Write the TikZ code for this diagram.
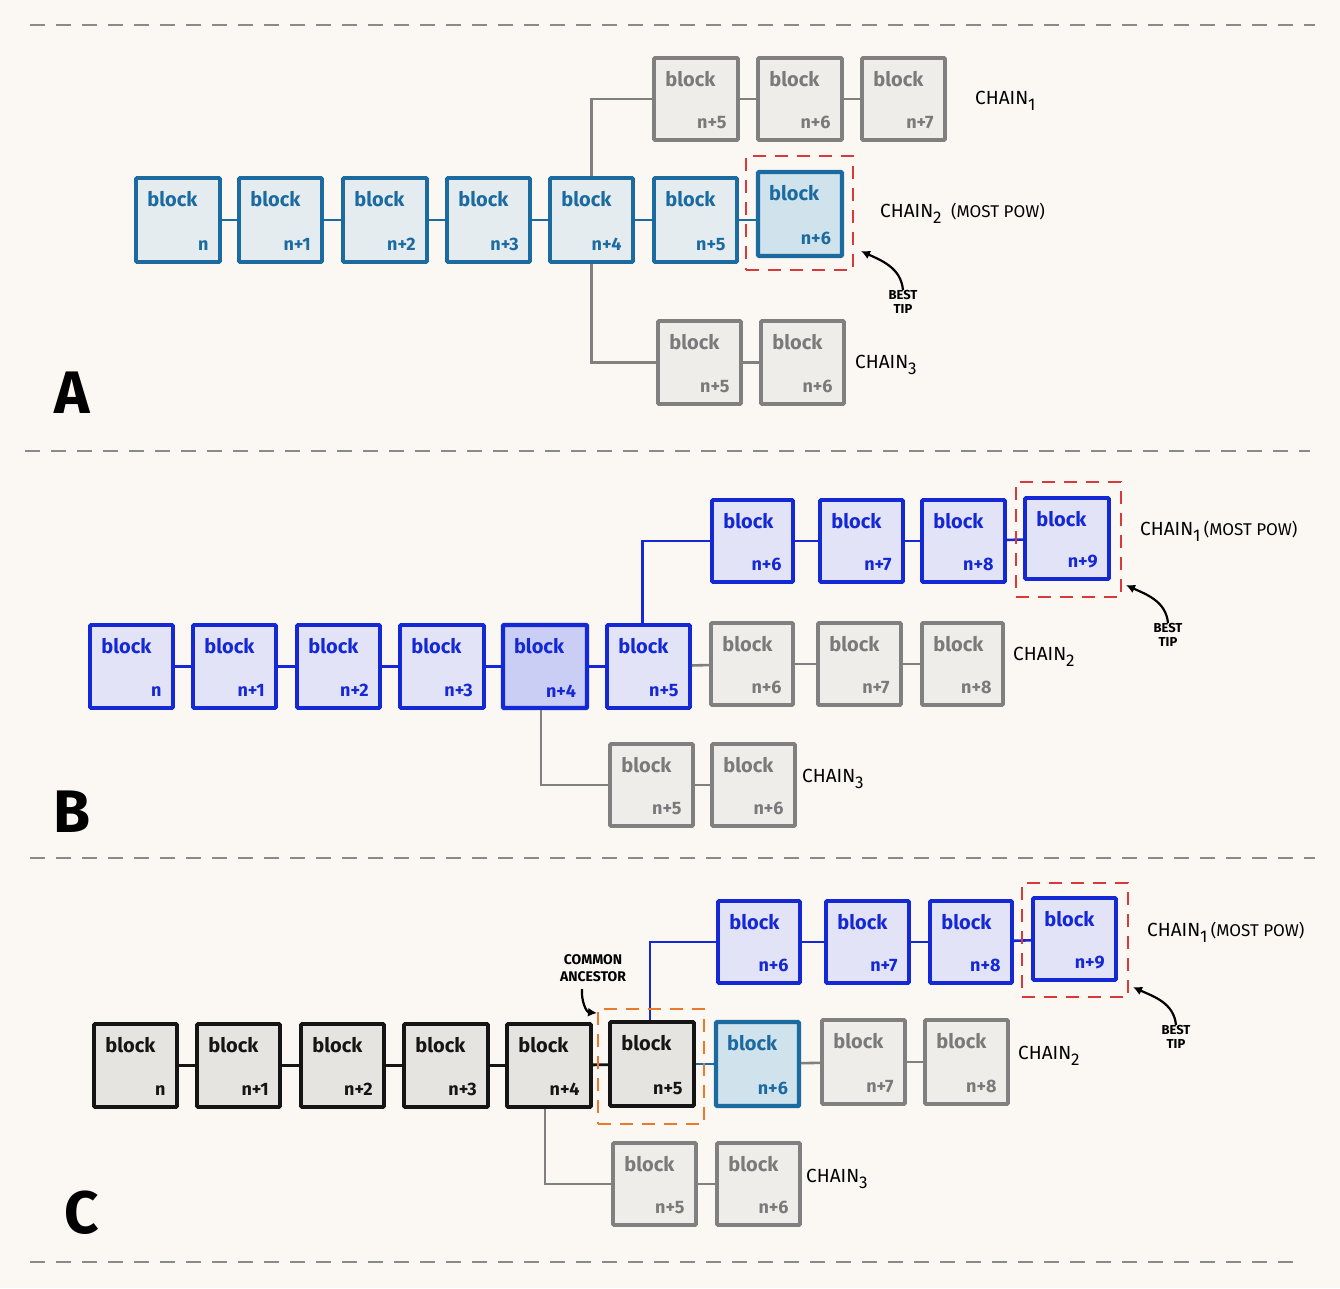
\documentclass[tikz,border=0pt]{standalone}
\usepackage{fontspec}
\setmainfont{Fira Sans}
\usetikzlibrary{arrows.meta,calc}
\definecolor{bgc}{HTML}{FBF8F3}
\definecolor{ablue}{HTML}{1B6AA0}
\definecolor{afill}{HTML}{E4ECF0}
\definecolor{atip}{HTML}{D0E2EC}
\definecolor{gstroke}{HTML}{808080}
\definecolor{gfill}{HTML}{EEEDEA}
\definecolor{gtext}{HTML}{7A7A7A}
\definecolor{bblue}{HTML}{1428D6}
\definecolor{bfill}{HTML}{E3E3F7}
\definecolor{bdark}{HTML}{CACEF5}
\definecolor{cblack}{HTML}{151515}
\definecolor{cfill}{HTML}{E5E4E1}
\definecolor{redc}{HTML}{D83A3C}
\definecolor{orangec}{HTML}{E97A2B}
\definecolor{sepc}{HTML}{8A8A8A}
\tikzset{
  blkbase/.style={draw, line width=3.6pt, inner sep=0pt, rounded corners=1pt},
  blkA/.style={blkbase, draw=ablue, fill=afill},
  blkAtip/.style={blkbase, draw=ablue, fill=atip, line width=4.2pt},
  blkG/.style={blkbase, draw=gstroke, fill=gfill},
  blkB/.style={blkbase, draw=bblue, fill=bfill},
  blkBdark/.style={blkbase, draw=bblue, fill=bdark, line width=4.4pt},
  blkC/.style={blkbase, draw=cblack, fill=cfill},
  btxt/.style={font=\fontsize{20}{20}\selectfont\bfseries, inner sep=0pt},
  ntxt/.style={font=\fontsize{18}{18}\selectfont\bfseries, inner sep=0pt},
  conA/.style={draw=ablue, line width=2.8pt},
  conB/.style={draw=bblue, line width=2.6pt},
  conC/.style={draw=cblack, line width=2.8pt},
  conG/.style={draw=gstroke, line width=2.6pt},
  redbox/.style={draw=redc, line width=2.6pt, dash pattern=on 13pt off 9pt, inner sep=0pt},
  orangebox/.style={draw=orangec, line width=2.6pt, dash pattern=on 13pt off 9pt, inner sep=0pt},
  sepline/.style={draw=sepc, line width=1.8pt, dash pattern=on 15pt off 11pt},
  chainlbl/.style={font=\fontsize{19}{19}\selectfont, anchor=west, inner sep=0pt, text=black},
  tiplbl/.style={font=\fontsize{13}{14}\selectfont\bfseries, align=center, inner sep=0pt, text=black},
  anclbl/.style={font=\fontsize{14}{17}\selectfont\bfseries, align=center, inner sep=0pt, text=black},
  pointer/.style={draw=black, line width=2.2pt, -{Latex[length=9pt,width=9pt]}},
  panel/.style={font=\fontsize{60}{60}\selectfont\bfseries, inner sep=0pt, text=black},
}
\newcommand{\mkblk}[8]{%
  \node[#1, minimum width={#6-#4}, minimum height={#7-#5}] (#3) at ({(#4+#6)/2},{(#5+#7)/2}) {};
  \node[btxt, text=#2, anchor=north west] (#3t) at ($(#3.north west)+(13,15)$) {block};
  \node[ntxt, text=#2, anchor=south east] (#3n) at ($(#3.south east)+(-13,-13)$) {#8};
}
\newcommand{\sub}[1]{\raisebox{-6pt}{\fontsize{17}{17}\selectfont #1}}
\newcommand{\mostpow}{{\fontsize{17}{17}\selectfont(MOST POW)}}
\begin{document}
\begin{tikzpicture}[x=1pt,y=-1pt]
\fill[bgc] (0,0) rectangle (1340,1288);
\useasboundingbox (0,0) rectangle (1340,1288);

% separators
\draw[sepline] (30,25) -- (1315,25);
\draw[sepline] (25,451) -- (1310,451);
\draw[sepline] (30,858) -- (1315,858);
\draw[sepline] (30,1262) -- (1295,1262);

%%%%%%%% PANEL A
\mkblk{blkA}{ablue}{a0}{136}{178}{220}{262}{n}
\mkblk{blkA}{ablue}{a1}{239}{178}{322}{262}{n+1}
\mkblk{blkA}{ablue}{a2}{343}{178}{427}{262}{n+2}
\mkblk{blkA}{ablue}{a3}{447}{178}{530}{262}{n+3}
\mkblk{blkA}{ablue}{a4}{550}{178}{633}{262}{n+4}
\mkblk{blkA}{ablue}{a5}{654}{178}{737}{262}{n+5}
\mkblk{blkAtip}{ablue}{a6}{758}{172}{842}{256}{n+6}
\mkblk{blkG}{gtext}{ua5}{654}{58}{738}{140}{n+5}
\mkblk{blkG}{gtext}{ua6}{758}{58}{842}{140}{n+6}
\mkblk{blkG}{gtext}{ua7}{862}{58}{945}{140}{n+7}
\mkblk{blkG}{gtext}{la5}{658}{321}{741}{404}{n+5}
\mkblk{blkG}{gtext}{la6}{761}{321}{844}{404}{n+6}
\draw[conA] (a0) -- (a1);
\draw[conA] (a1) -- (a2);
\draw[conA] (a2) -- (a3);
\draw[conA] (a3) -- (a4);
\draw[conA] (a4) -- (a5);
\draw[conA] (a5.east) -- (a5.east -| a6.west);
\draw[conG] (a4.north) |- (ua5.west);
\draw[conG] (ua5) -- (ua6);
\draw[conG] (ua6) -- (ua7);
\draw[conG] (a4.south) |- (la5.west);
\draw[conG] (la5) -- (la6);
\node[redbox, minimum width=107, minimum height=114] (rbA) at (799.5,213) {};
\node[chainlbl] (chA1) at (975,101) {CHAIN\sub{1}};
\node[chainlbl] (chA2) at (880,213) {CHAIN\sub{2}\enspace\mostpow};
\node[chainlbl] (chA3) at (855,365) {CHAIN\sub{3}};
\node[tiplbl] (btA) at (903,302) {BEST\\TIP};
\coordinate (aeA) at (861,251);
\draw[pointer] (btA.north) to[out=95,in=-25] (aeA);
\node[panel] (lblA) at (72,393) {A};

%%%%%%%% PANEL B
\mkblk{blkB}{bblue}{b0}{90}{625}{173}{708}{n}
\mkblk{blkB}{bblue}{b1}{193}{625}{276}{708}{n+1}
\mkblk{blkB}{bblue}{b2}{297}{625}{380}{708}{n+2}
\mkblk{blkB}{bblue}{b3}{400}{625}{484}{708}{n+3}
\mkblk{blkBdark}{bblue}{b4}{503}{625}{587}{708}{n+4}
\mkblk{blkB}{bblue}{b5}{607}{625}{690}{708}{n+5}
\mkblk{blkB}{bblue}{ub6}{712}{500}{793}{582}{n+6}
\mkblk{blkB}{bblue}{ub7}{820}{500}{903}{582}{n+7}
\mkblk{blkB}{bblue}{ub8}{922}{500}{1005}{582}{n+8}
\mkblk{blkB}{bblue}{ub9}{1025}{498}{1109}{579}{n+9}
\mkblk{blkG}{gtext}{mb6}{711}{623}{793}{705}{n+6}
\mkblk{blkG}{gtext}{mb7}{818}{623}{901}{705}{n+7}
\mkblk{blkG}{gtext}{mb8}{922}{623}{1003}{705}{n+8}
\mkblk{blkG}{gtext}{lb5}{610}{744}{693}{826}{n+5}
\mkblk{blkG}{gtext}{lb6}{712}{744}{795}{826}{n+6}
\draw[conB] (b0) -- (b1);
\draw[conB] (b1) -- (b2);
\draw[conB] (b2) -- (b3);
\draw[conB] (b3) -- (b4);
\draw[conB] (b4) -- (b5);
\draw[conB] ([xshift=-6pt]b5.north) |- (ub6.west);
\draw[conB] (ub6) -- (ub7);
\draw[conB] (ub7) -- (ub8);
\draw[conB] (ub8) -- (ub9);
\draw[conG] (b5) -- (mb6);
\draw[conG] (mb6) -- (mb7);
\draw[conG] (mb7) -- (mb8);
\draw[conG] ([xshift=-4pt]b4.south) |- (lb5.west);
\draw[conG] (lb5) -- (lb6);
\node[redbox, minimum width=105, minimum height=115] (rbB) at (1068.5,539.5) {};
\node[chainlbl] (chB1) at (1140,531) {CHAIN\sub{1}\,\mostpow};
\node[chainlbl] (chB2) at (1013,657) {CHAIN\sub{2}};
\node[chainlbl] (chB3) at (802,779) {CHAIN\sub{3}};
\node[tiplbl] (btB) at (1168,635) {BEST\\TIP};
\coordinate (aeB) at (1126,585);
\draw[pointer] (btB.north) to[out=95,in=-25] (aeB);
\node[panel] (lblB) at (72,812) {B};

%%%%%%%% PANEL C
\mkblk{blkC}{cblack}{c0}{94}{1024}{177}{1107}{n}
\mkblk{blkC}{cblack}{c1}{197}{1024}{280}{1107}{n+1}
\mkblk{blkC}{cblack}{c2}{301}{1024}{384}{1107}{n+2}
\mkblk{blkC}{cblack}{c3}{404}{1024}{488}{1107}{n+3}
\mkblk{blkC}{cblack}{c4}{507}{1024}{591}{1107}{n+4}
\mkblk{blkC}{cblack}{c5}{610}{1022}{694}{1106}{n+5}
\mkblk{blkAtip}{ablue}{c6}{716}{1022}{799}{1106}{n+6}
\mkblk{blkB}{bblue}{uc6}{718}{901}{800}{983}{n+6}
\mkblk{blkB}{bblue}{uc7}{826}{901}{909}{983}{n+7}
\mkblk{blkB}{bblue}{uc8}{930}{901}{1012}{983}{n+8}
\mkblk{blkB}{bblue}{uc9}{1033}{898}{1116}{980}{n+9}
\mkblk{blkG}{gtext}{vc7}{822}{1020}{905}{1104}{n+7}
\mkblk{blkG}{gtext}{vc8}{925}{1020}{1008}{1104}{n+8}
\mkblk{blkG}{gtext}{wc5}{613}{1143}{696}{1225}{n+5}
\mkblk{blkG}{gtext}{wc6}{717}{1143}{800}{1225}{n+6}
\draw[conC] (c0) -- (c1);
\draw[conC] (c1) -- (c2);
\draw[conC] (c2) -- (c3);
\draw[conC] (c3) -- (c4);
\draw[conC] (c4) -- (c5);
\draw[conA] (c5) -- (c6);
\draw[conG] (c6) -- (vc7);
\draw[conG] (vc7) -- (vc8);
\draw[conB] ([xshift=-2pt]c5.north) |- (uc6.west);
\draw[conB] (uc6) -- (uc7);
\draw[conB] (uc7) -- (uc8);
\draw[conB] (uc8) -- (uc9);
\draw[conG] ([xshift=-4pt]c4.south) |- (wc5.west);
\draw[conG] (wc5) -- (wc6);
\node[redbox, minimum width=106, minimum height=114] (rbC) at (1075,940) {};
\node[orangebox, minimum width=106, minimum height=115] (obC) at (651,1066.5) {};
\node[chainlbl] (chC1) at (1147,932) {CHAIN\sub{1}\,\mostpow};
\node[chainlbl] (chC2) at (1018,1056) {CHAIN\sub{2}};
\node[chainlbl] (chC3) at (806,1179) {CHAIN\sub{3}};
\node[tiplbl] (btC) at (1176,1037) {BEST\\TIP};
\coordinate (aeC) at (1133,987);
\draw[pointer] (btC.north) to[out=95,in=-25] (aeC);
\node[anclbl] (caC) at (593,968) {COMMON\\ANCESTOR};
\coordinate (caS) at (582,989);
\coordinate (aeCA) at (597,1013);
\draw[pointer] (caS) to[out=-95,in=175] (aeCA);
\node[panel] (lblC) at (82,1213) {C};
\end{tikzpicture}
\end{document}
